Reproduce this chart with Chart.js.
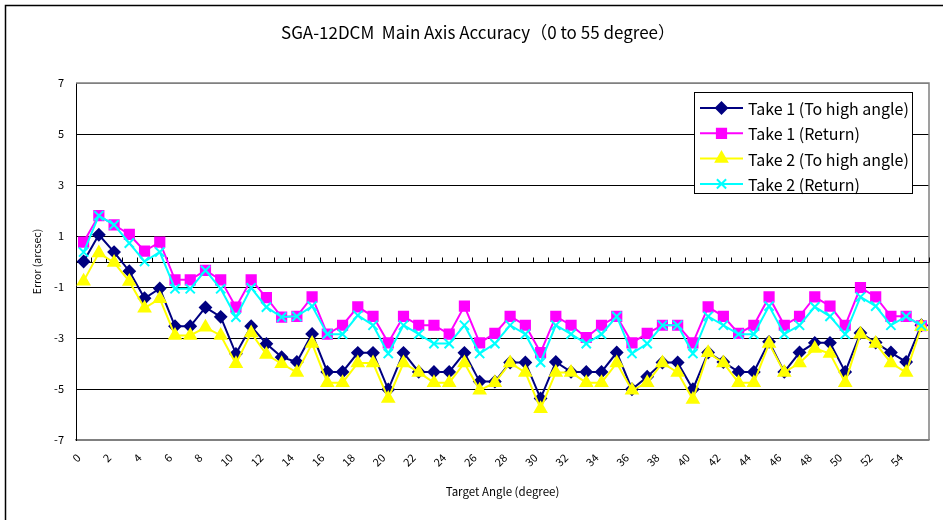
<!DOCTYPE html>
<html>
<head>
<meta charset="utf-8">
<script src="https://cdn.jsdelivr.net/npm/chart.js@4.4.0/dist/chart.umd.min.js"></script>
<style>
  html, body { margin: 0; padding: 0; background: #fff; }
  #wrap { position: relative; width: 943px; height: 520px; }
</style>
</head>
<body>
<div id="wrap"><canvas id="chart" width="943" height="520"></canvas></div>
<script>
// target angles (degree)
const angles = ['0','1','2','3','4','5','6','7','8','9','10','11','12','13','14','15','16','17','18','19',
  '20','21','22','23','24','25','26','27','28','29','30','31','32','33','34','35','36','37','38','39',
  '40','41','42','43','44','45','46','47','48','49','50','51','52','53','54','55'];

// error in arcsec
const take1High = [0.00, 1.05, 0.37, -0.38, -1.44, -1.06, -2.54, -2.54, -1.80, -2.17,
  -3.62, -2.54, -3.23, -3.75, -3.94, -2.84, -4.33, -4.33, -3.58, -3.58,
  -5.02, -3.58, -4.33, -4.33, -4.33, -3.58, -4.71, -4.71, -3.96, -3.96,
  -5.37, -3.94, -4.33, -4.33, -4.33, -3.57, -5.01, -4.52, -3.96, -3.96,
  -5.01, -3.57, -3.94, -4.33, -4.33, -3.15, -4.33, -3.57, -3.19, -3.19,
  -4.33, -2.80, -3.18, -3.57, -3.94, -2.50];
const take1Return = [0.76, 1.80, 1.44, 1.06, 0.41, 0.76, -0.72, -0.72, -0.35, -0.72,
  -1.79, -0.72, -1.42, -2.18, -2.15, -1.39, -2.85, -2.50, -1.78, -2.15,
  -3.19, -2.15, -2.50, -2.50, -2.85, -1.75, -3.19, -2.82, -2.15, -2.50,
  -3.57, -2.15, -2.50, -2.98, -2.50, -2.15, -3.19, -2.82, -2.50, -2.50,
  -3.19, -1.78, -2.15, -2.82, -2.50, -1.39, -2.50, -2.15, -1.39, -1.75,
  -2.50, -1.02, -1.39, -2.15, -2.15, -2.52];
const take2High = [-0.77, 0.33, -0.04, -0.78, -1.83, -1.46, -2.90, -2.90, -2.58, -2.90,
  -4.01, -2.80, -3.65, -4.01, -4.35, -3.22, -4.75, -4.75, -3.98, -3.98,
  -5.37, -3.98, -4.35, -4.75, -4.75, -3.98, -5.05, -4.75, -3.98, -4.35,
  -5.77, -4.35, -4.35, -4.75, -4.75, -3.98, -5.05, -4.75, -3.98, -4.35,
  -5.41, -3.58, -3.98, -4.75, -4.75, -3.22, -4.35, -3.98, -3.41, -3.61,
  -4.75, -2.85, -3.22, -3.98, -4.35, -2.56];
const take2Return = [0.37, 1.80, 1.44, 0.72, 0.00, 0.37, -1.07, -1.07, -0.35, -1.07,
  -2.18, -1.03, -1.79, -2.18, -2.15, -1.75, -2.85, -2.85, -2.11, -2.50,
  -3.61, -2.50, -2.85, -3.22, -3.22, -2.50, -3.61, -3.22, -2.50, -2.85,
  -3.96, -2.50, -2.85, -3.22, -2.85, -2.15, -3.61, -3.22, -2.50, -2.50,
  -3.61, -2.15, -2.50, -2.85, -2.85, -1.75, -2.85, -2.50, -1.78, -2.15,
  -2.85, -1.39, -1.75, -2.50, -2.15, -2.52];

const yTicks = [-7, -5, -3, -1, 1, 3, 5, 7];
const chartTitle = 'SGA-12DCM  Main Axis Accuracy（0 to 55 degree）';

const FONT = "'Noto Sans CJK JP', 'Noto Sans', sans-serif";

const series = [
  { label: 'Take 1 (To high angle)', data: take1High, color: '#000080', style: 'rectRot', radius: 5.5, order: 4 },
  { label: 'Take 1 (Return)', data: take1Return, color: '#FF00FF', style: 'rect', radius: 6.5, order: 3 },
  { label: 'Take 2 (To high angle)', data: take2High, color: '#FFFF00', style: 'triangle', radius: 6.5, order: 2 },
  { label: 'Take 2 (Return)', data: take2Return, color: '#00FFFF', style: 'crossRot', radius: 6.5, order: 1 }
];

// outer frame, title, plot border, zero axis with its tick marks, legend box
const framePlugin = {
  id: 'frame',
  beforeDraw(chart) {
    const ctx = chart.ctx;
    ctx.save();
    ctx.fillStyle = '#fff';
    ctx.fillRect(0, 0, chart.width, chart.height);
    ctx.strokeStyle = '#000';
    ctx.lineWidth = 1.5;
    ctx.strokeRect(5.5, 5.5, chart.width + 20, chart.height + 20);
    ctx.fillStyle = '#000';
    ctx.font = '17px ' + FONT;
    ctx.textAlign = 'center';
    ctx.textBaseline = 'middle';
    ctx.fillText(chartTitle, 478, 33);
    ctx.restore();
  },
  beforeDatasetsDraw(chart) {
    const { ctx, chartArea: a, scales } = chart;
    ctx.save();
    ctx.strokeStyle = '#808080';
    ctx.lineWidth = 1.5;
    ctx.beginPath();
    ctx.moveTo(a.left, a.top);
    ctx.lineTo(a.right, a.top);
    ctx.lineTo(a.right, a.bottom);
    ctx.stroke();

    const y0 = Math.round(scales.y.getPixelForValue(0)) + 0.5;
    ctx.strokeStyle = '#000';
    ctx.lineWidth = 1;
    ctx.beginPath();
    ctx.moveTo(a.left, y0);
    ctx.lineTo(a.right, y0);
    const n = angles.length;
    const step = (scales.x.getPixelForValue(1) - scales.x.getPixelForValue(0));
    for (let i = 0; i <= n; i++) {
      const x = Math.round(scales.x.getPixelForValue(0) - step / 2 + i * step) + 0.5;
      ctx.moveTo(x, y0);
      ctx.lineTo(x, y0 - 5);
    }
    ctx.stroke();
    ctx.restore();
  },
  afterDraw(chart) {
    const ctx = chart.ctx;
    const box = { x: 694, y: 92, w: 218, h: 101 };
    ctx.save();
    ctx.fillStyle = '#fff';
    ctx.fillRect(box.x, box.y, box.w, box.h);
    ctx.strokeStyle = '#000';
    ctx.lineWidth = 1;
    ctx.strokeRect(box.x + 0.5, box.y + 0.5, box.w, box.h);
    ctx.font = '16px ' + FONT;
    ctx.textBaseline = 'middle';
    series.forEach((s, i) => {
      const cy = box.y + 16 + i * 25.3;
      ctx.strokeStyle = s.color;
      ctx.fillStyle = s.color;
      ctx.lineWidth = 2;
      ctx.beginPath();
      ctx.moveTo(box.x + 6, cy);
      ctx.lineTo(box.x + 49, cy);
      ctx.stroke();
      Chart.helpers.drawPoint(ctx, { pointStyle: s.style, radius: s.radius, borderWidth: 2, rotation: 0 }, box.x + 27.5, cy);
      ctx.fillStyle = '#000';
      ctx.fillText(s.label, box.x + 54, cy + 1);
    });
    ctx.restore();
  }
};

new Chart(document.getElementById('chart'), {
  type: 'line',
  data: {
    labels: angles,
    datasets: series.map(s => ({
      label: s.label,
      data: s.data,
      order: s.order,
      borderColor: s.color,
      backgroundColor: s.color,
      borderWidth: 2,
      pointStyle: s.style,
      pointRadius: s.radius,
      pointBorderWidth: 2,
      pointBorderColor: s.color,
      pointBackgroundColor: s.color,
      tension: 0,
      fill: false
    }))
  },
  options: {
    responsive: false,
    animation: false,
    devicePixelRatio: 1,
    layout: { padding: { left: 6, right: 14, top: 83, bottom: 0 } },
    plugins: {
      legend: { display: false },
      tooltip: { enabled: false },
      title: { display: false }
    },
    scales: {
      x: {
        type: 'category',
        offset: true,
        grid: { display: false, drawTicks: false },
        border: { display: true, color: '#808080', width: 1.5 },
        ticks: {
          autoSkip: false,
          maxRotation: 45,
          minRotation: 45,
          padding: 11,
          labelOffset: -5,
          color: '#000',
          font: { family: FONT, size: 11 },
          callback: function (value, index) {
            return index % 2 === 0 ? this.getLabelForValue(value) : '';
          }
        },
        title: {
          display: true,
          text: 'Target Angle (degree)',
          color: '#000',
          font: { family: FONT, size: 11.5 },
          padding: { top: 0, bottom: 21 }
        },
        afterCalculateLabelRotation(scale) { scale.labelRotation = 45; },
        afterFit(scale) { scale.height = 80; }
      },
      y: {
        min: yTicks[0],
        max: yTicks[yTicks.length - 1],
        afterBuildTicks(scale) { scale.ticks = yTicks.map(v => ({ value: v })); },
        grid: {
          drawTicks: false,
          color: ctx => (ctx.tick && Math.abs(ctx.tick.value) === 7 ? '#808080' : '#000'),
          lineWidth: 1
        },
        border: { display: true, color: '#000', width: 1 },
        ticks: {
          padding: 12,
          color: '#000',
          font: { family: FONT, size: 11 }
        },
        title: {
          display: true,
          text: 'Error (arcsec)',
          color: '#000',
          font: { family: FONT, size: 10.5 },
          padding: { top: 25, bottom: 0 }
        },
        afterFit(scale) { scale.width = 70; }
      }
    }
  },
  plugins: [framePlugin]
});
</script>
</body>
</html>
